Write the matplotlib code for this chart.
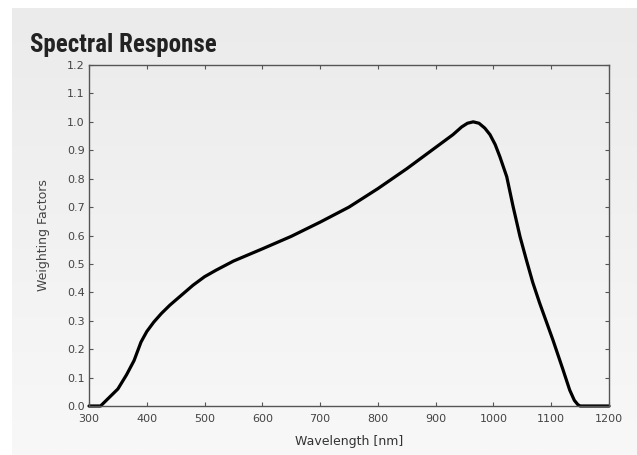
import numpy as np
import matplotlib
matplotlib.use("Agg")
import matplotlib.pyplot as plt
from matplotlib.colors import LinearSegmentedColormap

wavelength = [300, 320, 335, 350, 365, 378, 390, 400, 412, 425, 440, 460, 480, 500,
              520, 550, 600, 650, 700, 750, 800, 850, 900, 930, 945, 955, 965, 975,
              985, 994, 1003, 1011, 1023, 1034, 1046, 1057, 1068, 1080, 1103, 1120,
              1132, 1140, 1146, 1150, 1200]
response = [0, 0, 0.03, 0.06, 0.11, 0.16, 0.225, 0.262, 0.295, 0.325, 0.355, 0.39, 0.425,
            0.455, 0.478, 0.51, 0.553, 0.597, 0.647, 0.70, 0.765, 0.835, 0.91, 0.955,
            0.982, 0.995, 1.0, 0.995, 0.978, 0.955, 0.92, 0.878, 0.807, 0.702, 0.596,
            0.514, 0.435, 0.362, 0.232, 0.13, 0.056, 0.02, 0.005, 0, 0]
xticks = [300, 400, 500, 600, 700, 800, 900, 1000, 1100, 1200]
yticks = [0.0, 0.1, 0.2, 0.3, 0.4, 0.5, 0.6, 0.7, 0.8, 0.9, 1.0, 1.1, 1.2]

W, H = 637, 455
fig = plt.figure(figsize=(W / 100, H / 100), dpi=100)
fig.patch.set_facecolor("white")

# gradient background panel
bg = fig.add_axes([12 / W, 0, 1 - 12 / W, 1 - 8 / H], zorder=0)
grad = np.linspace(0, 1, 256).reshape(-1, 1)
cmap = LinearSegmentedColormap.from_list("g", ["#ebebeb", "#f8f8f8"])
bg.imshow(grad, aspect="auto", cmap=cmap, extent=[0, 1, 1, 0])
bg.set_axis_off()

ax = fig.add_axes([89 / W, 1 - 406 / H, (609 - 89) / W, (406 - 65) / H], zorder=1)
ax.patch.set_alpha(0)
ax.plot(wavelength, response, color="black", lw=2.3, solid_capstyle="round",
        solid_joinstyle="round", clip_on=False)
ax.set_xlim(300, 1200)
ax.set_ylim(0, 1.2)
ax.set_xticks(xticks)
ax.set_yticks(yticks)
ax.set_yticklabels([f"{v:.1f}" for v in yticks])
ax.tick_params(direction="in", length=3, width=0.8, color="#555555",
               labelsize=8, labelcolor="#444444", top=True, right=True,
               labeltop=False, labelright=False, pad=3)
ax.tick_params(axis="x", pad=6)
for s in ax.spines.values():
    s.set_color("#555555")
    s.set_linewidth(1.0)
ax.set_xlabel("Wavelength [nm]", fontsize=9, color="#333333", labelpad=8)
ax.set_ylabel("Weighting Factors", fontsize=9, color="#444444", labelpad=12)

fig.text(30 / W, 1 - 52 / H, "Spectral Response", fontsize=18, fontweight="bold",
         family=["Roboto Condensed", "Liberation Sans Narrow", "Roboto", "DejaVu Sans"],
         color="#222222", ha="left", va="baseline")

fig.savefig("out.png", dpi=100, facecolor=fig.get_facecolor())
